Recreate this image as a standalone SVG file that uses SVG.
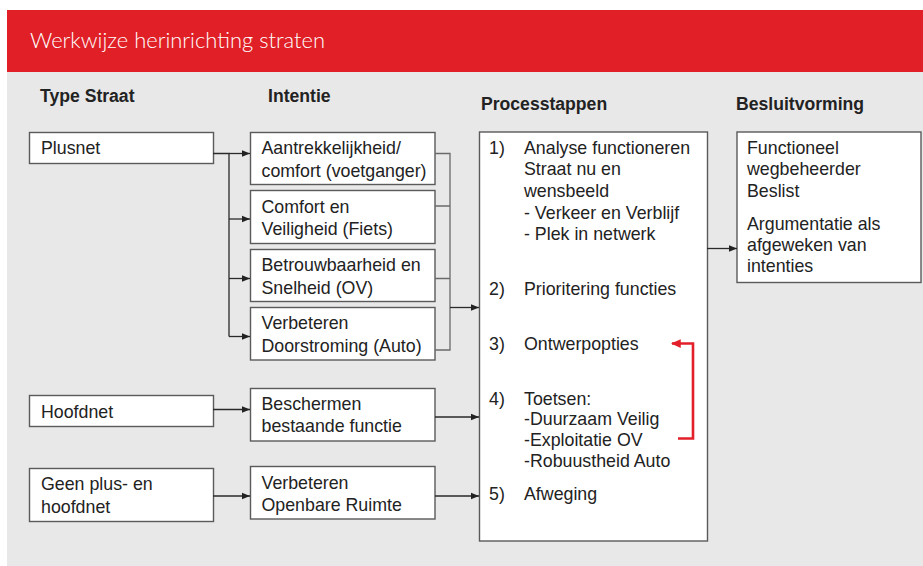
<svg xmlns="http://www.w3.org/2000/svg" width="923" height="566" viewBox="0 0 923 566">
<defs>
<marker id="ah" viewBox="0 0 8 8" refX="8" refY="4" markerWidth="8" markerHeight="8" markerUnits="userSpaceOnUse" orient="auto">
<path d="M0,0.8 L8,4 L0,7.2 Z" fill="#222"/>
</marker>
<marker id="ahr" viewBox="0 0 8 8" refX="7" refY="4" markerWidth="10" markerHeight="10" markerUnits="userSpaceOnUse" orient="auto">
<path d="M0,0.5 L8,4 L0,7.5 Z" fill="#e3202a"/>
</marker>
<style>
.box{fill:#fff;stroke:#5a5a5a;stroke-width:1.4}
.t{font-family:"Liberation Sans",Arial,sans-serif;font-size:17.8px;fill:#222}
.h{font-family:"Liberation Sans",Arial,sans-serif;font-size:17.6px;font-weight:bold;fill:#222}
.c{fill:none;stroke:#2a2a2a;stroke-width:1.3}
.cg{fill:none;stroke:#6a6a6a;stroke-width:1.3}
</style>
</defs>
<rect x="0" y="0" width="923" height="566" fill="#fff"/>
<rect x="7" y="72" width="916" height="494" fill="#e8e8e8"/>
<rect x="7" y="10" width="916" height="62" fill="#e01f26"/>
<text x="30" y="48" font-family="Lato,'Liberation Sans',sans-serif" font-weight="300" font-size="21.8" fill="#fff" textLength="295" lengthAdjust="spacingAndGlyphs">Werkwijze herinrichting straten</text>

<g id="headers">
<text class="h" x="40" y="102">Type Straat</text>
<text class="h" x="268" y="102">Intentie</text>
<text class="h" x="481" y="110">Processtappen</text>
<text class="h" x="736" y="110">Besluitvorming</text>
</g>

<g id="plusnet">
<rect class="box" x="29.5" y="132.5" width="184" height="31"/>
<text class="t" x="41" y="153.5">Plusnet</text>
</g>
<g id="hoofdnet">
<rect class="box" x="29.5" y="395.5" width="184" height="31"/>
<text class="t" x="41" y="418">Hoofdnet</text>
</g>
<g id="geen">
<rect class="box" x="29.5" y="468.5" width="184" height="53"/>
<text class="t" x="41" y="490">Geen plus- en</text>
<text class="t" x="41" y="512.5">hoofdnet</text>
</g>

<g id="int1">
<rect class="box" x="250.5" y="132.5" width="184.5" height="52"/>
<text class="t" x="261.5" y="153.5">Aantrekkelijkheid/</text>
<text class="t" x="261.5" y="176.5">comfort (voetganger)</text>
</g>
<g id="int2">
<rect class="box" x="250.5" y="190.5" width="184.5" height="53"/>
<text class="t" x="261.5" y="212.5">Comfort en</text>
<text class="t" x="261.5" y="235">Veiligheid (Fiets)</text>
</g>
<g id="int3">
<rect class="box" x="250.5" y="249.5" width="184.5" height="52"/>
<text class="t" x="261.5" y="271">Betrouwbaarheid en</text>
<text class="t" x="261.5" y="293.5">Snelheid (OV)</text>
</g>
<g id="int4">
<rect class="box" x="250.5" y="307.5" width="184.5" height="52.5"/>
<text class="t" x="261.5" y="329">Verbeteren</text>
<text class="t" x="261.5" y="351.5">Doorstroming (Auto)</text>
</g>
<g id="int5">
<rect class="box" x="250.5" y="388.5" width="184.5" height="52.5"/>
<text class="t" x="261.5" y="409.5">Beschermen</text>
<text class="t" x="261.5" y="432">bestaande functie</text>
</g>
<g id="int6">
<rect class="box" x="250.5" y="466.5" width="184.5" height="52.5"/>
<text class="t" x="261.5" y="488.5">Verbeteren</text>
<text class="t" x="261.5" y="510.5">Openbare Ruimte</text>
</g>

<g id="process">
<rect class="box" x="479.5" y="132" width="228" height="409"/>
<text class="t" x="489" y="153.5">1)</text>
<text class="t" x="524" y="153.5">Analyse functioneren</text>
<text class="t" x="524" y="175">Straat nu en</text>
<text class="t" x="524" y="196.5">wensbeeld</text>
<text class="t" x="524" y="218.5">- Verkeer en Verblijf</text>
<text class="t" x="524" y="240">- Plek in netwerk</text>
<text class="t" x="489" y="294.5">2)</text>
<text class="t" x="524" y="294.5">Prioritering functies</text>
<text class="t" x="489" y="349.5">3)</text>
<text class="t" x="524" y="349.5">Ontwerpopties</text>
<text class="t" x="489" y="404.5">4)</text>
<text class="t" x="524" y="404.5">Toetsen:</text>
<text class="t" x="524" y="424.5">-Duurzaam Veilig</text>
<text class="t" x="524" y="445.5">-Exploitatie OV</text>
<text class="t" x="524" y="466.5">-Robuustheid Auto</text>
<text class="t" x="489" y="499.5">5)</text>
<text class="t" x="524" y="499.5">Afweging</text>
</g>

<g id="besluit">
<rect class="box" x="737" y="132" width="184" height="150.5"/>
<text class="t" x="747" y="153.5">Functioneel</text>
<text class="t" x="747" y="175">wegbeheerder</text>
<text class="t" x="747" y="196.5">Beslist</text>
<text class="t" x="747" y="230">Argumentatie als</text>
<text class="t" x="747" y="251">afgeweken van</text>
<text class="t" x="747" y="272">intenties</text>
</g>

<g id="connectors">
<path class="c" d="M213,153.5 H229 V336.5" />
<path class="c" d="M229,153.5 H250" marker-end="url(#ah)"/>
<path class="c" d="M229,219 H250" marker-end="url(#ah)"/>
<path class="c" d="M229,278.5 H250" marker-end="url(#ah)"/>
<path class="c" d="M229,336.5 H250" marker-end="url(#ah)"/>
<path class="cg" d="M435,153.5 H450 V350 H435 M435,206 H450 M435,278.5 H450"/>
<path class="c" d="M450,307.5 H479" marker-end="url(#ah)"/>
<path class="c" d="M213,409.5 H250" marker-end="url(#ah)"/>
<path class="c" d="M435,417 H479" marker-end="url(#ah)"/>
<path class="c" d="M213,496 H250" marker-end="url(#ah)"/>
<path class="c" d="M435,496 H479" marker-end="url(#ah)"/>
<path class="c" d="M707,248.5 H737" marker-end="url(#ah)"/>
<path d="M678,438.5 H693 V343.5 H672" fill="none" stroke="#e3202a" stroke-width="2.6" marker-end="url(#ahr)"/>
</g>
</svg>
